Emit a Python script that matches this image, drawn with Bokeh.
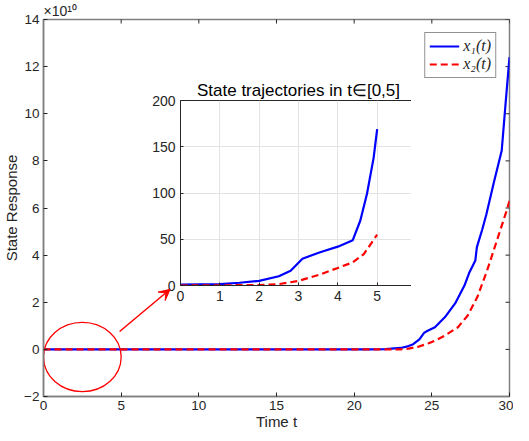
from math import pi
from bokeh.plotting import figure
from bokeh.models import (Range1d, FixedTicker, Legend, LegendItem,
                          Arrow, VeeHead)
from bokeh.layouts import column
from bokeh.embed import file_html
from bokeh.resources import INLINE

# ---------------- data ----------------
# main chart (values in units of 1e10)
t_x1 = [0, 5, 10, 15, 20, 21, 22, 23, 23.5, 23.8, 24.2, 24.5, 24.7, 25.2, 25.85,
        26.5, 27.1, 27.4, 27.8, 27.9, 28.25, 28.5, 29.0, 29.5, 29.75, 30]
x1 = [0, 0, 0, 0, 0, 0, 0.01, 0.06, 0.14, 0.22, 0.42, 0.7, 0.78, 0.94, 1.37,
      1.95, 2.71, 3.24, 3.77, 4.34, 5.1, 5.7, 7.1, 8.44, 10.45, 12.4]
t_x2 = [0, 5, 10, 15, 20, 23, 23.5, 24.17, 24.8, 25.3, 25.85, 26.68, 27.31,
        27.93, 28.56, 29.19, 29.82, 30]
x2 = [0, 0, 0, 0, 0, 0, 0.03, 0.12, 0.26, 0.4, 0.59, 0.94, 1.44,
      2.22, 3.35, 4.62, 5.9, 6.3]

# inset chart (t in [0,5])
t_in1 = [0, 1, 1.5, 2, 2.5, 2.8, 3.1, 3.55, 4.0, 4.38, 4.57, 4.74, 4.91, 5.0]
x1_in = [1, 1.5, 3, 5, 10, 16, 29, 36, 42, 49, 70, 99, 138, 169]
t_in2 = [0, 1, 2, 2.5, 3.0, 3.55, 4.0, 4.38, 4.66, 5.0]
x2_in = [0, 0.2, 0.5, 1.5, 5, 12, 19, 25, 34, 55]

main_x_ticks = [0, 5, 10, 15, 20, 25, 30]
main_y_ticks = [-2, 0, 2, 4, 6, 8, 10, 12, 14]
inset_x_ticks = [0, 1, 2, 3, 4, 5]
inset_y_ticks = [0, 50, 100, 150, 200]
X0, X1, Y0, Y1 = 0, 30, -2, 14

# zoom-region annotation (main data units)
zoom_cx, zoom_cy, zoom_w, zoom_h = 2.5, -0.32, 5.0, 2.94
arrow_x0, arrow_y0, arrow_x1, arrow_y1 = 4.9, 0.76, 8.15, 2.55

FONT = "Liberation Sans"
TXT = "#262626"
AX = "#7f7f7f"

# ---------------- main figure ----------------
W, H = 513, 433
p = figure(width=W, height=H, output_backend="svg", toolbar_location=None,
           x_range=Range1d(X0, X1), y_range=Range1d(Y0, Y1),
           min_border_left=37, min_border_right=0, min_border_top=19, min_border_bottom=37,
           background_fill_alpha=0, border_fill_alpha=0,
           title="\u00d710\u00b9\u2070")
p.title.align = "left"
p.title.text_font = FONT
p.title.text_font_size = "14px"
p.title.text_font_style = "normal"
p.title.text_color = TXT
p.title.standoff = 1
p.grid.visible = False
p.outline_line_color = AX
p.outline_line_width = 1.5

p.xaxis.ticker = FixedTicker(ticks=main_x_ticks)
p.yaxis.ticker = FixedTicker(ticks=main_y_ticks)
p.xaxis.axis_label = "Time t"
p.yaxis.axis_label = "State Response"
for ax in (p.xaxis[0], p.yaxis[0]):
    ax.axis_line_color = AX
    ax.axis_line_width = 1.5
    ax.major_tick_in = 4
    ax.major_tick_out = 0
    ax.major_tick_line_color = TXT
    ax.minor_tick_line_color = None
    ax.major_label_text_font = FONT
    ax.major_label_text_font_size = "13.5px"
    ax.major_label_text_color = TXT
    ax.axis_label_text_font = FONT
    ax.axis_label_text_font_size = "15px"
    ax.axis_label_text_font_style = "normal"
    ax.axis_label_text_color = TXT
p.xaxis.major_label_standoff = 4
p.xaxis.axis_label_standoff = 0
p.yaxis.major_label_standoff = 4
p.yaxis.axis_label_standoff = 1

# inward tick marks on the top and right edges of the box
p.scatter(x=main_x_ticks, y=[Y1] * len(main_x_ticks), marker="dash", angle=pi / 2,
          size=8, line_color=TXT, line_width=1)
p.scatter(x=[X1] * len(main_y_ticks), y=main_y_ticks, marker="dash",
          size=8, line_color=TXT, line_width=1)

r1 = p.line(t_x1, x1, line_color="#0000ff", line_width=2.2)
r2 = p.line(t_x2, x2, line_color="#ff0000", line_width=2.2, line_dash="7 4")

legend = Legend(items=[LegendItem(label="x\u2081(t)", renderers=[r1]),
                       LegendItem(label="x\u2082(t)", renderers=[r2])],
                location="top_right", margin=13, padding=4, spacing=0,
                label_text_font="Liberation Serif", label_text_font_style="italic",
                label_text_font_size="16px", label_text_color=TXT,
                glyph_width=30, glyph_height=18, label_standoff=4, label_height=18,
                border_line_color="#262626", border_line_width=1,
                background_fill_color="white", background_fill_alpha=1)
p.add_layout(legend)

p.ellipse(x=[zoom_cx], y=[zoom_cy], width=[zoom_w], height=[zoom_h],
          fill_color=None, line_color="#ff0000", line_width=1.3)
p.add_layout(Arrow(end=VeeHead(size=11, fill_color="#ff0000", line_color="#ff0000", line_width=1),
                   x_start=arrow_x0, y_start=arrow_y0, x_end=arrow_x1, y_end=arrow_y1,
                   line_color="#ff0000", line_width=1.5))

# ---------------- inset figure ----------------
IFW, IFH = 236, 185
IH = 23 + IFH + 24
IL, IT = 145, 77
q = figure(frame_width=IFW, frame_height=IFH, output_backend="svg", toolbar_location=None,
           x_range=Range1d(0, 6), y_range=Range1d(0, 200),
           min_border_left=34, min_border_right=4, min_border_top=23, min_border_bottom=24,
           title="State trajectories in t\u2208[0,5]", border_fill_alpha=0)
q.title.align = "center"
q.title.text_font = FONT
q.title.text_font_size = "17px"
q.title.text_font_style = "normal"
q.title.text_color = "#000000"
q.title.standoff = 2
q.outline_line_color = "#262626"
q.outline_line_width = 1
q.xaxis.ticker = FixedTicker(ticks=inset_x_ticks)
q.yaxis.ticker = FixedTicker(ticks=inset_y_ticks)
q.xgrid.ticker = FixedTicker(ticks=inset_x_ticks)
q.ygrid.ticker = FixedTicker(ticks=inset_y_ticks)
q.grid.grid_line_color = "#e3e3e3"
for ax in (q.xaxis[0], q.yaxis[0]):
    ax.axis_line_color = "#262626"
    ax.major_tick_in = 3
    ax.major_tick_out = 0
    ax.major_tick_line_color = TXT
    ax.minor_tick_line_color = None
    ax.major_label_text_font = FONT
    ax.major_label_text_font_size = "14px"
    ax.major_label_text_color = TXT
    ax.major_label_standoff = 5

q.line(t_in1, x1_in, line_color="#0000ff", line_width=2.2)
q.line(t_in2, x2_in, line_color="#ff0000", line_width=2.2, line_dash="7 4")

q.margin = (IT, 0, 0, IL - 8)
p.margin = (-(IT + IH), 0, 0, 0)

layout = column(q, p, spacing=0)
open("out.html", "w").write(file_html(layout, INLINE))
